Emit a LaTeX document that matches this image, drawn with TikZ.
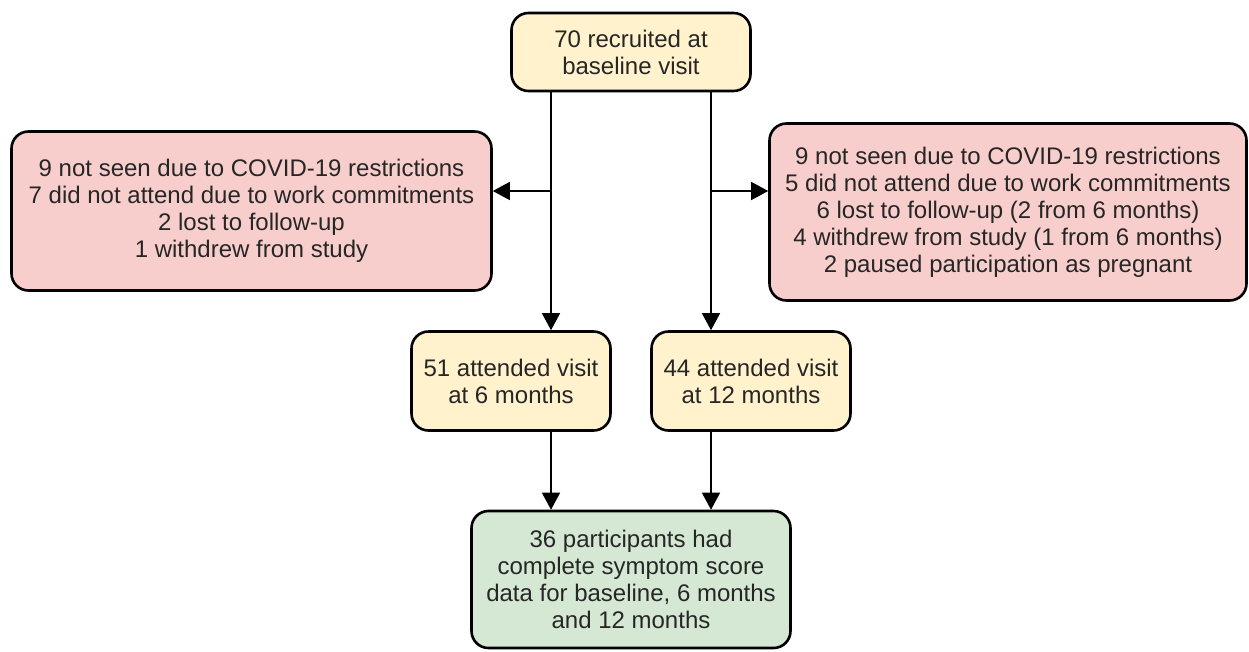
\documentclass[tikz,border=0pt]{standalone}
\usepackage{fontspec}
\setmainfont{Liberation Sans}
\usetikzlibrary{arrows.meta}
\definecolor{yel}{HTML}{FFF2CC}
\definecolor{red}{HTML}{F8CECC}
\definecolor{grn}{HTML}{D5E8D4}
\definecolor{txt}{HTML}{262626}
\tikzset{
  box/.style={draw=black, line width=2.6pt, rounded corners=17pt, align=center,
    text=txt, font=\fontsize{24}{27}\selectfont, inner sep=0pt},
  arr/.style={line width=1.4pt, -{Triangle[length=17pt,width=18pt]}},
}
\begin{document}
\begin{tikzpicture}[x={(1pt,0)}, y={(0,-1pt)}]
\useasboundingbox (0,0) rectangle (1249,651);
\node[box, fill=yel, minimum width=239pt, minimum height=78pt] (top) at (631,52)
  {70 recruited at\\baseline visit};
\node[box, fill=red, minimum width=480pt, minimum height=159pt] (left) at (251.5,211)
  {9 not seen due to COVID-19 restrictions\\7 did not attend due to work commitments\\2 lost to follow-up\\1 withdrew from study};
\node[box, fill=red, minimum width=477pt, minimum height=177pt] (right) at (1008,212)
  {9 not seen due to COVID-19 restrictions\\5 did not attend due to work commitments\\6 lost to follow-up (2 from 6 months)\\4 withdrew from study (1 from 6 months)\\2 paused participation as pregnant};
\node[box, fill=yel, minimum width=199pt, minimum height=99pt] (ml) at (511,381)
  {51 attended visit\\at 6 months};
\node[box, fill=yel, minimum width=199pt, minimum height=99pt] (mr) at (751,381)
  {44 attended visit\\at 12 months};
\node[box, fill=grn, minimum width=319pt, minimum height=137pt] (bot) at (631,579.5)
  {36 participants had\\complete symptom score\\data for baseline, 6 months\\and 12 months};
\coordinate (j1) at (551,191);
\coordinate (j2) at (711,191);
\draw[arr] (top.south -| j1) -- (ml.north -| j1);
\draw[arr] (top.south -| j2) -- (mr.north -| j2);
\draw[arr] (j1) -- (j1 -| left.east);
\draw[arr] (j2) -- (j2 -| right.west);
\draw[arr] (ml.south -| j1) -- (bot.north -| j1);
\draw[arr] (mr.south -| j2) -- (bot.north -| j2);
\end{tikzpicture}
\end{document}
